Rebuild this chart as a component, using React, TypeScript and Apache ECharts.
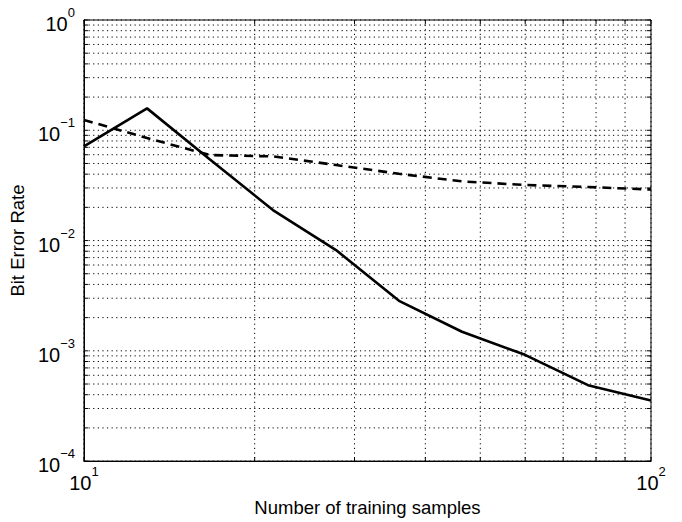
import React, { useEffect, useRef } from "react";
import * as echarts from "echarts";

// Number of training samples (log-spaced)
const trainingSamples = [10, 12.92, 16.68, 21.54, 27.83, 35.94, 46.42, 59.95, 77.43, 100];
// Solid curve
const berSolid = [0.0715, 0.158, 0.0544, 0.0189, 0.0082, 0.00284, 0.00149, 0.00092, 0.000488, 0.000355];
// Dashed curve
const berDashed = [0.124, 0.085, 0.0596, 0.058, 0.0484, 0.0403, 0.0344, 0.0319, 0.0306, 0.029];

// Tick labels (exponents of 10)
const xTickExponents = [1, 2];
const yTickExponents = [-4, -3, -2, -1, 0];
// Log minor grid multipliers
const minorMultipliers = [2, 3, 4, 5, 6, 7, 8, 9];

const xMin = 10;
const xMax = 100;
const yMin = 1e-4;
const yMax = 1;

const FONT = "'Liberation Sans', Arial, Helvetica, sans-serif";

function supLabel(exps: number[]) {
  return (v: number) => {
    const l = Math.log10(v);
    const e = Math.round(l);
    if (Math.abs(l - e) > 1e-6 || exps.indexOf(e) < 0) return "";
    const s = e < 0 ? "\u2212" + -e : String(e);
    return `{b|10}{s|${s}}`;
  };
}

const rich = {
  b: { fontSize: 20, fontFamily: FONT, color: "#000", lineHeight: 28, verticalAlign: "bottom" },
  s: { fontSize: 13, fontFamily: FONT, color: "#000", lineHeight: 13, verticalAlign: "top" },
};

function gridValues(exps: number[]) {
  const out: number[] = [];
  for (let i = 0; i < exps.length; i++) {
    const base = Math.pow(10, exps[i]);
    out.push(base);
    if (i < exps.length - 1) {
      minorMultipliers.forEach((m) => out.push(m * base));
    }
  }
  return out;
}

export default function App() {
  const ref = useRef<HTMLDivElement>(null);

  useEffect(() => {
    if (!ref.current) return;
    const chart = echarts.init(ref.current, null, { renderer: "svg" });

    const yGrid = gridValues(yTickExponents);
    const xGrid = gridValues(xTickExponents);

    const dotted = { stroke: "#000", lineWidth: 1, lineDash: [1.2, 3.4] };
    const tickStyle = { stroke: "#000", lineWidth: 1 };
    const TL = 4;

    const option: any = {
      animation: false,
      backgroundColor: "#fff",
      grid: {
        left: 80,
        right: 31,
        top: 20,
        bottom: 52,
        show: true,
        borderColor: "#000",
        borderWidth: 1,
        backgroundColor: "transparent",
      },
      xAxis: {
        type: "log",
        logBase: 10,
        min: xMin,
        max: xMax,
        splitNumber: 1,
        axisLine: { show: true, lineStyle: { color: "#000", width: 1 } },
        axisTick: { show: false },
        splitLine: { show: false },
        axisLabel: {
          formatter: supLabel(xTickExponents),
          rich,
          margin: 4,
          color: "#000",
        },
        name: "Number of training samples",
        nameLocation: "middle",
        nameGap: 31,
        nameTextStyle: { fontSize: 18.5, fontFamily: FONT, color: "#000" },
      },
      yAxis: {
        type: "log",
        logBase: 10,
        min: yMin,
        max: yMax,
        splitNumber: 4,
        axisLine: { show: true, lineStyle: { color: "#000", width: 1 } },
        axisTick: { show: false },
        splitLine: { show: false },
        axisLabel: {
          formatter: supLabel(yTickExponents),
          rich,
          margin: 9,
          color: "#000",
        },
        name: "Bit Error Rate",
        nameLocation: "middle",
        nameGap: 53,
        nameTextStyle: { fontSize: 18.5, fontFamily: FONT, color: "#000" },
      },
      series: [
        {
          type: "custom",
          silent: true,
          z: 1,
          data: yGrid.map((v) => [xMin, v]),
          renderItem: (params: any, api: any) => {
            const cs = params.coordSys;
            const y = api.coord([xMin, api.value(1)])[1];
            const x0 = cs.x;
            const x1 = cs.x + cs.width;
            return {
              type: "group",
              children: [
                { type: "line", shape: { x1: x0, y1: y, x2: x1, y2: y }, style: dotted },
                { type: "line", shape: { x1: x0, y1: y, x2: x0 + TL, y2: y }, style: tickStyle },
                { type: "line", shape: { x1: x1 - TL, y1: y, x2: x1, y2: y }, style: tickStyle },
              ],
            };
          },
        },
        {
          type: "custom",
          silent: true,
          z: 1,
          data: xGrid.map((v) => [v, yMin]),
          renderItem: (params: any, api: any) => {
            const cs = params.coordSys;
            const x = api.coord([api.value(0), yMin])[0];
            const y0 = cs.y;
            const y1 = cs.y + cs.height;
            return {
              type: "group",
              children: [
                { type: "line", shape: { x1: x, y1: y0, x2: x, y2: y1 }, style: dotted },
                { type: "line", shape: { x1: x, y1: y0, x2: x, y2: y0 + TL }, style: tickStyle },
                { type: "line", shape: { x1: x, y1: y1 - TL, x2: x, y2: y1 }, style: tickStyle },
              ],
            };
          },
        },
        {
          type: "line",
          z: 3,
          data: trainingSamples.map((x, i) => [x, berSolid[i]]),
          symbol: "none",
          lineStyle: { color: "#000", width: 2.6 },
        },
        {
          type: "line",
          z: 3,
          data: trainingSamples.map((x, i) => [x, berDashed[i]]),
          symbol: "none",
          lineStyle: { color: "#000", width: 2.6, type: [9, 6] },
        },
      ],
    };

    chart.setOption(option);
    return () => chart.dispose();
  }, []);

  return (
    <div
      ref={ref}
      style={{ position: "absolute", left: 0, top: 0, width: 682, height: 522 }}
    />
  );
}
